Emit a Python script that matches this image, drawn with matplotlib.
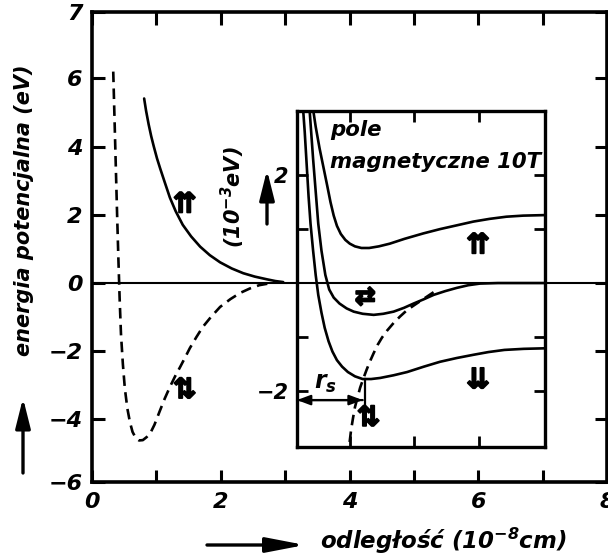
import matplotlib
matplotlib.use("Agg")
import matplotlib.pyplot as plt
from matplotlib.patches import FancyArrowPatch
import matplotlib.patheffects as pe

plt.rcParams['font.family'] = ['DejaVu Sans']
plt.rcParams['mathtext.default'] = 'regular'

# ---------------- data ----------------
# main panel: distance in 10^-8 cm, energy in eV
x_tick_pos = [0, 1, 2, 3, 4, 5, 6, 7, 8]
x_tick_labels = ['0', '', '2', '', '4', '', '6', '', '8']
y_tick_pos = [-5.85, -4, -2, 0, 2, 4, 6, 7.95]
y_tick_labels = ['\u22126', '\u22124', '\u22122', '0', '2', '4', '6', '7']

# parallel spins (repulsive)
triplet_x = [0.81, 0.84, 0.88, 0.92, 0.96, 1.01, 1.06, 1.13, 1.21, 1.30, 1.41,
             1.54, 1.68, 1.83, 1.99, 2.17, 2.35, 2.53, 2.72, 2.85, 2.97]
triplet_y = [5.41, 5.05, 4.65, 4.30, 4.00, 3.65, 3.35, 2.95, 2.50, 2.10, 1.70,
             1.36, 1.06, 0.81, 0.60, 0.42, 0.28, 0.18, 0.10, 0.05, 0.02]

# antiparallel spins (bound)
singlet_x = [0.33, 0.35, 0.37, 0.39, 0.41, 0.43, 0.45, 0.48, 0.51, 0.55, 0.59,
             0.63, 0.68, 0.73, 0.79, 0.85, 0.91, 0.97, 1.05, 1.13, 1.21, 1.29,
             1.37, 1.45, 1.52, 1.62, 1.72, 1.85, 1.99, 2.15, 2.30, 2.45, 2.60, 2.81]
singlet_y = [6.20, 4.80, 3.40, 2.00, 0.70, -0.50, -1.50, -2.40, -3.10, -3.70, -4.10,
             -4.38, -4.56, -4.63, -4.62, -4.53, -4.40, -4.17, -3.78, -3.40, -3.06, -2.75,
             -2.47, -2.18, -1.92, -1.60, -1.30, -1.00, -0.71, -0.48, -0.30, -0.17, -0.07, 0.0]

# inset: field 10 T, energy in 10^-3 eV
up_up_x = [3.42, 3.47, 3.53, 3.59, 3.65, 3.70, 3.75, 3.80, 3.86, 3.93, 4.00, 4.08, 4.18,
           4.30, 4.45, 4.62, 4.85, 5.14, 5.40, 5.66, 5.92, 6.17, 6.43, 6.69, 7.03]
up_up_y = [3.30, 2.90, 2.50, 2.15, 1.80, 1.50, 1.25, 1.06, 0.91, 0.80, 0.73, 0.68, 0.65,
           0.65, 0.68, 0.73, 0.82, 0.92, 1.00, 1.07, 1.14, 1.19, 1.23, 1.25, 1.26]

mixed_x = [3.37, 3.40, 3.43, 3.47, 3.51, 3.56, 3.62, 3.68, 3.75, 3.84, 3.95, 4.06, 4.20,
           4.37, 4.52, 4.68, 4.84, 4.99, 5.15, 5.30, 5.48, 5.66, 5.84, 6.02, 6.30, 7.03]
mixed_y = [3.30, 2.80, 2.30, 1.70, 1.10, 0.60, 0.15, -0.12, -0.27, -0.38, -0.47, -0.53, -0.57,
           -0.59, -0.57, -0.53, -0.46, -0.38, -0.30, -0.22, -0.15, -0.09, -0.04, -0.01, 0.0, 0.0]

down_down_x = [3.27, 3.30, 3.33, 3.36, 3.39, 3.43, 3.47, 3.51, 3.56, 3.61, 3.67, 3.73, 3.80,
               3.88, 3.97, 4.08, 4.20, 4.33, 4.47, 4.68, 4.89, 5.15, 5.40, 5.66, 5.92, 6.15,
               6.40, 6.70, 7.03]
down_down_y = [3.30, 2.80, 2.20, 1.60, 1.10, 0.60, 0.15, -0.22, -0.55, -0.83, -1.08, -1.27, -1.43,
               -1.55, -1.65, -1.73, -1.78, -1.78, -1.76, -1.71, -1.65, -1.55, -1.46, -1.39, -1.33, -1.28,
               -1.24, -1.22, -1.21]

singlet_in_x = [5.30, 5.20, 5.10, 5.00, 4.89, 4.78, 4.68, 4.58, 4.50, 4.43, 4.37, 4.31,
                4.26, 4.21, 4.16, 4.12, 4.08, 4.05, 4.02, 4.00, 3.98]
singlet_in_y = [-0.17, -0.25, -0.33, -0.41, -0.50, -0.62, -0.74, -0.88, -1.01, -1.15, -1.30, -1.46,
                -1.61, -1.77, -1.94, -2.12, -2.30, -2.50, -2.72, -2.92, -3.10]

inset_y_ticks = [-2, -1, 1, 2]
inset_y_labels = ['\u22122', '', '', '2']
inset_x_ticks = [4, 5, 6]

r_s = 4.24
r_s_level = -2.17

# ---------------- figure ----------------
W, H = 608, 558
fig = plt.figure(figsize=(W / 100, H / 100), dpi=100)

BI = dict(fontweight='bold', fontstyle='italic')
LW = 1.9
DASH = (0, (4, 2.4))
HEAVY = [pe.withStroke(linewidth=1.3, foreground='k')]


def spin(axis, x, y, sym, size=20):
    axis.text(x, y, sym, fontsize=size, ha='center', va='center',
              fontweight='bold', path_effects=HEAVY)


def fig_arrow(p0, p1, hl=0.9, hw=0.25):
    fig.add_artist(FancyArrowPatch((p0[0] / W, 1 - p0[1] / H), (p1[0] / W, 1 - p1[1] / H),
                                   transform=fig.transFigure, color='k', lw=2.4,
                                   arrowstyle=f'-|>,head_length={hl},head_width={hw}',
                                   mutation_scale=18, shrinkA=0, shrinkB=0))


ax = fig.add_axes([92 / W, 1 - 482 / H, (607 - 92) / W, (482 - 12) / H])
ax.set_xlim(0, 8)
ax.set_ylim(-5.85, 7.95)
for s in ax.spines.values():
    s.set_linewidth(2.6)
ax.set_xticks(x_tick_pos)
ax.set_xticklabels(x_tick_labels, fontsize=16, **BI)
ax.set_yticks(y_tick_pos)
ax.set_yticklabels(y_tick_labels, fontsize=16, **BI)
ax.tick_params(direction='in', length=9, width=2.2, top=True, right=True, pad=7)

ax.axhline(0, color='k', lw=1.5)
ax.plot(triplet_x, triplet_y, color='k', lw=LW, solid_capstyle='round')
ax.plot(singlet_x, singlet_y, color='k', lw=LW, ls=DASH)

spin(ax, 1.44, 2.3, '\u21c8')
spin(ax, 1.44, -3.15, '\u21c5')

# inset panel
axin = fig.add_axes([297 / W, 1 - 447 / H, (545 - 297) / W, (447 - 111) / H])
axin.set_xlim(3.18, 7.03)
axin.set_ylim(-3.04, 3.19)
for s in axin.spines.values():
    s.set_linewidth(2.4)
axin.set_xticks(inset_x_ticks)
axin.set_xticklabels([])
axin.set_yticks(inset_y_ticks)
axin.set_yticklabels(inset_y_labels, fontsize=15, **BI)
axin.tick_params(direction='in', length=8, width=2.0, top=True, right=True, pad=6)

axin.axhline(0, color='k', lw=1.5)
axin.plot(up_up_x, up_up_y, color='k', lw=LW)
axin.plot(mixed_x, mixed_y, color='k', lw=LW)
axin.plot(down_down_x, down_down_y, color='k', lw=LW)
axin.plot(singlet_in_x, singlet_in_y, color='k', lw=LW, ls=DASH)

axin.text(3.70, 2.83, 'pole', fontsize=15.3, ha='left', va='center', **BI)
axin.text(3.70, 2.24, 'magnetyczne 10T', fontsize=15.3, ha='left', va='center', **BI)

spin(axin, 5.99, 0.70, '\u21c8')
spin(axin, 4.24, -0.26, '\u21c4', size=18)
spin(axin, 5.99, -1.80, '\u21ca')
spin(axin, 4.29, -2.50, '\u21c5')

# r_s marker
arrow_kw = dict(arrowstyle='-|>,head_length=0.8,head_width=0.3',
                color='k', lw=1.6, shrinkA=0, shrinkB=0)
axin.annotate('', xy=(3.18, r_s_level), xytext=(r_s - 0.04, r_s_level), arrowprops=arrow_kw)
axin.annotate('', xy=(r_s - 0.04, r_s_level), xytext=(3.18, r_s_level), arrowprops=arrow_kw)
axin.plot([r_s, r_s], [-1.77, -2.28], color='k', lw=1.6)
axin.text(3.62, -1.85, 'r$_s$', fontsize=17, ha='center', va='center', **BI)

# axis titles with direction arrows
fig.text(24 / W, 1 - 210 / H, 'energia potencjalna (eV)', rotation=90,
         ha='center', va='center', fontsize=15, **BI)
fig_arrow((23, 473), (23, 398), hl=1.0, hw=0.25)

fig.text(443 / W, 1 - 541 / H, 'odleg\u0142o\u015b\u0107 (10$^{-8}$cm)',
         ha='center', va='center', fontsize=16.5, **BI)
fig_arrow((207, 545), (305, 545), hl=1.3, hw=0.25)

fig.text(233 / W, 1 - 197 / H, '(10$^{-3}$eV)', rotation=90,
         ha='center', va='center', fontsize=15, **BI)
fig_arrow((267, 224), (267, 170), hl=1.0, hw=0.25)

fig.savefig('out.png', dpi=100)
